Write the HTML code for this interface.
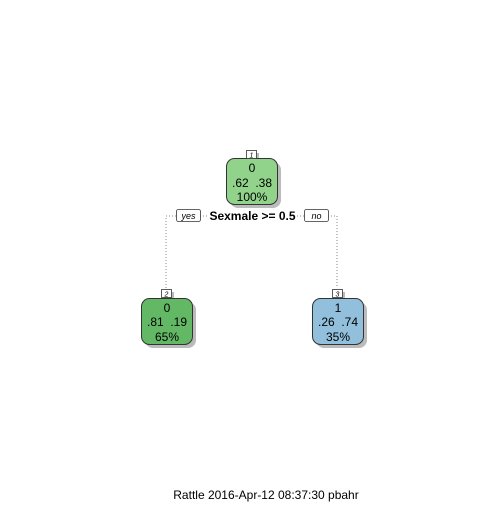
<!DOCTYPE html>
<html><head><style>
body{margin:0;background:#fff;}
svg text{font-family:"Liberation Sans",sans-serif;white-space:pre;}
</style></head><body>
<svg width="504" height="504" xmlns="http://www.w3.org/2000/svg">
<g stroke="#888" stroke-width="1" stroke-dasharray="1,2" fill="none">
<path d="M166,288 V216 H176"/><path d="M200,216 H208"/>
<path d="M297,216 H304"/><path d="M328,216 H337 V288"/>
</g>
<rect x="230" y="162" width="51" height="46" rx="8" fill="#bbb"/>
<rect x="145" y="302" width="51" height="46" rx="8" fill="#bbb"/>
<rect x="316" y="302" width="51" height="46" rx="8" fill="#bbb"/>
<rect x="249" y="153" width="10" height="6" fill="#bbb"/>
<rect x="164" y="292" width="10" height="6" fill="#bbb"/>
<rect x="335" y="292" width="10" height="6" fill="#bbb"/>
<rect x="226.5" y="158.5" width="51" height="46" rx="8" fill="#91d38b" stroke="#333"/>
<rect x="141.5" y="298.5" width="51" height="46" rx="8" fill="#62b865" stroke="#333"/>
<rect x="312.5" y="298.5" width="51" height="46" rx="8" fill="#91bfdc" stroke="#333"/>
<rect x="246.5" y="150.5" width="10" height="8" fill="#fff" stroke="#333" stroke-width="0.8"/>
<rect x="161.5" y="289.5" width="10" height="8" fill="#fff" stroke="#333" stroke-width="0.8"/>
<rect x="332.5" y="289.5" width="10" height="8" fill="#fff" stroke="#333" stroke-width="0.8"/>
<g font-size="7" font-style="italic" text-anchor="middle" fill="#000">
<text x="251.5" y="157.5">1</text><text x="166.5" y="296.5">2</text><text x="337.5" y="296.5">3</text>
</g>
<g font-size="12" text-anchor="middle" fill="#000">
<text x="252" y="172">0</text><text x="252" y="187" xml:space="preserve">.62  .38</text><text x="252" y="201">100%</text>
<text x="167" y="312">0</text><text x="167" y="326" xml:space="preserve">.81  .19</text><text x="167" y="341">65%</text>
<text x="338" y="312">1</text><text x="338" y="326" xml:space="preserve">.26  .74</text><text x="338" y="341">35%</text>
</g>
<rect x="176.5" y="209.5" width="24" height="12" rx="2" fill="#fff" stroke="#333" stroke-width="0.8"/>
<rect x="304.5" y="209.5" width="24" height="12" rx="2" fill="#fff" stroke="#333" stroke-width="0.8"/>
<g font-size="9" font-style="italic" text-anchor="middle">
<text x="188.5" y="219">yes</text><text x="316.5" y="219">no</text>
</g>
<text x="252.5" y="220" font-size="12" font-weight="bold" text-anchor="middle">Sexmale &gt;= 0.5</text>
<text x="266" y="499" font-size="12" text-anchor="middle">Rattle 2016-Apr-12 08:37:30 pbahr</text>
</svg>
</body></html>
